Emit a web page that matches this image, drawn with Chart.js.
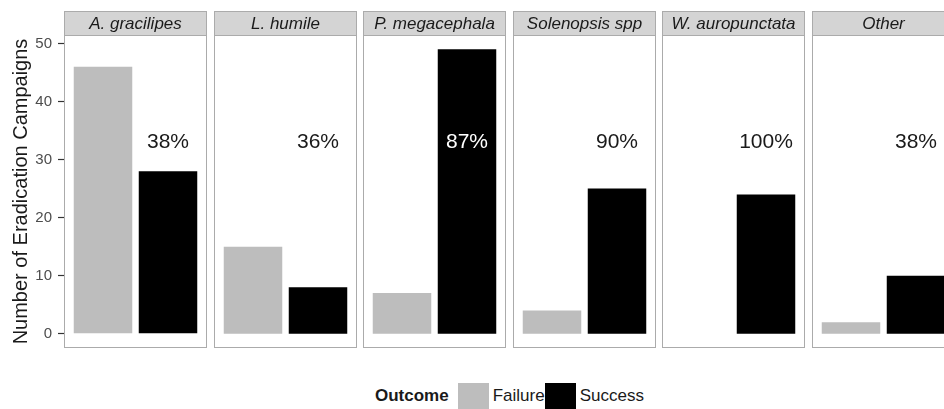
<!DOCTYPE html>
<html>
<head>
<meta charset="utf-8">
<script src="https://cdn.jsdelivr.net/npm/chart.js@4"></script>
<style>
  body { margin: 0; background: #fff; width: 944px; height: 409px; overflow: hidden; position: relative;
         font-family: "Liberation Sans", Arial, sans-serif; }
  canvas { position: absolute; top: 0; }
  #legend { position: absolute; top: 383px; left: 375px; height: 26px; display: flex; align-items: center;
            font-size: 17px; color: #1a1a1a; }
  #legend b { margin-right: 9px; }
  #legend .key { width: 31px; height: 26px; margin-right: 4px; }
</style>
</head>
<body>
<div id="legend">
  <b>Outcome</b>
  <span class="key" style="background:#bdbdbd"></span><span>Failure</span>
  <span class="key" style="background:#000"></span><span>Success</span>
</div>
<script>
// Data
const species = ['A. gracilipes', 'L. humile', 'P. megacephala', 'Solenopsis spp', 'W. auropunctata', 'Other'];
const outcomes = ['Failure', 'Success'];
const failure = [46, 15, 7, 4, 0, 2];
const success = [28, 8, 49, 25, 24, 10];
const pctLabels = ['38%', '36%', '87%', '90%', '100%', '38%'];
const pctY = 33;
const yTicks = [0, 10, 20, 30, 40, 50];

const outcomeColors = ['#bdbdbd', '#000000'];

// Strip, border and percentage label for each facet
const facetPlugin = {
    id: 'facet',
    afterDatasetsDraw(chart, args, opts) {
        const { ctx, chartArea: a, scales: { x, y } } = chart;
        ctx.save();
        ctx.strokeStyle = '#ababab';
        ctx.lineWidth = 1;
        ctx.strokeRect(a.left + 0.5, a.top + 0.5, a.right - a.left - 1, a.bottom - a.top - 1);

        ctx.fillStyle = '#d4d4d4';
        ctx.fillRect(a.left, 11, a.right - a.left, a.top - 11);
        ctx.strokeRect(a.left + 0.5, 11.5, a.right - a.left - 1, a.top - 11);

        ctx.fillStyle = '#1a1a1a';
        ctx.font = 'italic 17px "Liberation Sans", Arial, sans-serif';
        ctx.textAlign = 'center';
        ctx.textBaseline = 'middle';
        ctx.fillText(opts.strip, (a.left + a.right) / 2, 24);

        ctx.font = '21px "Liberation Sans", Arial, sans-serif';
        ctx.fillStyle = opts.onBar ? '#ffffff' : '#1a1a1a';
        ctx.fillText(opts.pct, x.getPixelForValue(2), y.getPixelForValue(pctY));
        ctx.restore();
    }
};

const panelLeft = 64, panelStep = 149.6, panelWidth = 143;

species.forEach((name, i) => {
    const first = i === 0;
    const canvas = document.createElement('canvas');
    const left = first ? 0 : Math.round(panelLeft + i * panelStep);
    const width = first ? panelLeft + panelWidth : panelWidth;
    canvas.width = width;
    canvas.height = 360;
    canvas.style.left = left + 'px';
    document.body.appendChild(canvas);

    new Chart(canvas.getContext('2d'), {
        type: 'bar',
        data: {
            datasets: [{
                data: [{ x: 1, y: failure[i] }, { x: 2, y: success[i] }],
                backgroundColor: outcomeColors,
                categoryPercentage: 1,
                barPercentage: 0.9
            }]
        },
        options: {
            responsive: false,
            animation: false,
            devicePixelRatio: 1,
            layout: { padding: { top: 35, bottom: 12, left: 0, right: 0 } },
            plugins: {
                legend: { display: false },
                tooltip: { enabled: false },
                facet: { strip: name, pct: pctLabels[i], onBar: success[i] > pctY + 2 }
            },
            scales: {
                x: {
                    type: 'linear',
                    min: 0.4,
                    max: 2.6,
                    offset: false,
                    grid: { offset: false },
                    display: false,
                    afterBuildTicks: s => { s.ticks = [{ value: 1 }, { value: 2 }]; }
                },
                y: {
                    min: -2.45,
                    max: 51.45,
                    display: first,
                    afterBuildTicks: s => { s.ticks = yTicks.map(v => ({ value: v })); },
                    afterFit: s => {
                        if (!first) return;
                        s.width = panelLeft;
                        s.paddingTop = 0;
                        s.paddingBottom = 0;
                    },
                    border: { display: false },
                    grid: { drawOnChartArea: false, drawTicks: true, tickLength: 6, tickColor: '#333333', tickWidth: 1.2 },
                    ticks: { color: '#4d4d4d', padding: 6, font: { size: 15, family: '"Liberation Sans", Arial, sans-serif' } },
                    title: {
                        display: true,
                        text: 'Number of Eradication Campaigns',
                        color: '#1a1a1a',
                        padding: { top: 9, bottom: 0 },
                        font: { size: 20, family: '"Liberation Sans", Arial, sans-serif' }
                    }
                }
            }
        },
        plugins: [facetPlugin]
    });
});
</script>
</body>
</html>
